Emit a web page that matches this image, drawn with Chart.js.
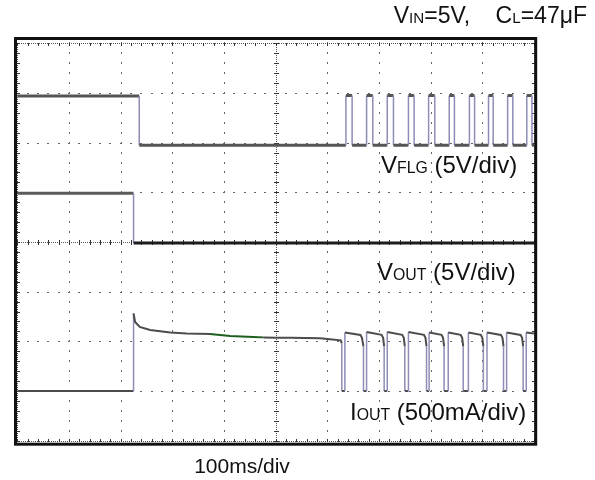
<!DOCTYPE html>
<html>
<head>
<meta charset="utf-8">
<script src="https://cdn.jsdelivr.net/npm/chart.js@4.4.1/dist/chart.umd.min.js"></script>
<style>
  body { margin: 0; background: #fff; }
  #wrap { position: relative; width: 595px; height: 480px; font-family: Arial, "Liberation Sans", sans-serif; color: #111; }
  #wrap canvas { position: absolute; left: 0; top: 0; }
  .lbl { position: absolute; white-space: nowrap; line-height: 1; font-size: 24px; }
  .lbl small { font-size: 0.66em; }
</style>
</head>
<body>
<div id="wrap">
  <canvas id="scope" width="595" height="480"></canvas>
  <div class="lbl" style="right:8px; top:4px; font-size:23px;">V<small>IN</small>=5V,&nbsp;&nbsp;&nbsp;&nbsp;C<small>L</small>=47μF</div>
  <div class="lbl" style="left:381px; top:153px;">V<small>FLG</small> (5V/div)</div>
  <div class="lbl" style="left:377px; top:260px;">V<small>OUT</small> (5V/div)</div>
  <div class="lbl" style="left:350px; top:400px;">I<small>OUT</small> (500mA/div)</div>
  <div class="lbl" style="left:142px; width:200px; text-align:center; top:455px; font-size:21px;">100ms/div</div>
</div>
<script>
// time in ms (100ms/div, 10 div), level in divisions counted from the bottom (8 div)
const flgTime  = [0, 236, 236, 636, 636, 648, 648, 676, 676, 688, 688, 716, 716, 728, 728, 757, 757, 768, 768, 796, 796, 808,
                  808, 836, 836, 846, 846, 875, 875, 885, 885, 912, 912, 921, 921, 949, 949, 959, 959, 986, 986, 996, 996, 1000];
const flgLevel = [6.94, 6.94, 5.95, 5.95, 6.95, 6.95, 5.95, 5.95, 6.95, 6.95, 5.95, 5.95, 6.95, 6.95, 5.95, 5.95, 6.95, 6.95, 5.95, 5.95, 6.95, 6.95,
                  5.95, 5.95, 6.95, 6.95, 5.95, 5.95, 6.95, 6.95, 5.95, 5.95, 6.95, 6.95, 5.95, 5.95, 6.95, 6.95, 5.95, 5.95, 6.95, 6.95, 5.95, 5.95];

const outTime  = [0, 225, 225, 1000];
const outLevel = [4.98, 4.98, 3.98, 3.98];

const iTime  = [0, 225, 225, 228, 237, 257, 296, 328, 373, 412, 457, 476, 502, 528, 586, 605, 626, 628, 628,
                634, 634, 664, 667, 670, 670,
                676, 676, 705, 708, 710, 710,
                716, 716, 745, 748, 750, 750,
                757, 757, 787, 790, 792, 792,
                797, 797, 821, 824, 826, 826,
                834, 834, 858, 861, 863, 863,
                873, 873, 897, 900, 902, 902,
                909, 909, 936, 939, 941, 941,
                947, 947, 974, 977, 979, 979,
                985, 985, 1000];
const iLevel = [1.00, 1.00, 2.56, 2.39, 2.29, 2.23, 2.18, 2.16, 2.15, 2.11, 2.09, 2.08, 2.07, 2.07, 2.06, 2.04, 2.02, 1.96, 1.00,
                1.00, 2.18, 2.13, 2.07, 1.90, 1.00,
                1.00, 2.19, 2.13, 2.07, 1.90, 1.00,
                1.00, 2.19, 2.13, 2.07, 1.90, 1.00,
                1.00, 2.19, 2.13, 2.07, 1.90, 1.00,
                1.00, 2.18, 2.13, 2.07, 1.90, 1.00,
                1.00, 2.18, 2.13, 2.07, 1.90, 1.00,
                1.00, 2.18, 2.13, 2.07, 1.90, 1.00,
                1.00, 2.18, 2.13, 2.07, 1.90, 1.00,
                1.00, 2.18, 2.13, 2.07, 1.90, 1.00,
                1.00, 2.18, 2.16];

const EDGE = '#8d8db6';
const toPoints = (t, v) => t.map((x, i) => ({ x: x, y: v[i] }));
const isEdge = c => c.p0.parsed.x === c.p1.parsed.x;

// dotted graticule, centre cross and bezel
const scopeGrid = {
  id: 'scopeGrid',
  beforeDatasetsDraw(chart) {
    const { ctx, chartArea: a, scales: { x, y } } = chart;
    const X = v => Math.round(x.getPixelForValue(v));
    const Y = v => Math.round(y.getPixelForValue(v));
    ctx.save();
    ctx.fillStyle = '#666';
    for (let i = 1; i < 10; i++) {
      if (i === 5) continue;
      for (let j = 0; j <= 40; j++) ctx.fillRect(X(i * 100), Y(j / 5) - 1, 1, 2);
    }
    for (let j = 1; j < 8; j++) {
      if (j === 4) continue;
      for (let i = 0; i <= 50; i++) ctx.fillRect(X(i * 20) - 1, Y(j), 2, 1);
    }
    ctx.strokeStyle = '#555';
    ctx.lineWidth = 1;
    ctx.setLineDash([1, 1]);
    ctx.beginPath();
    [0, 500, 1000].forEach(v => { ctx.moveTo(X(v) + 0.5, Y(8)); ctx.lineTo(X(v) + 0.5, Y(0)); });
    [0, 4, 8].forEach(v => { ctx.moveTo(X(0), Y(v) + 0.5); ctx.lineTo(X(1000), Y(v) + 0.5); });
    ctx.stroke();
    ctx.setLineDash([]);
    ctx.strokeStyle = '#333';
    ctx.beginPath();
    for (let j = 0; j <= 40; j++) {
      const py = Y(j / 5) + 0.5;
      ctx.moveTo(X(500) - 2, py); ctx.lineTo(X(500) + 3, py);
      ctx.moveTo(X(0), py); ctx.lineTo(X(0) + 3, py);
      ctx.moveTo(X(1000) - 2, py); ctx.lineTo(X(1000) + 1, py);
    }
    for (let i = 0; i <= 50; i++) {
      const px = X(i * 20) + 0.5;
      ctx.moveTo(px, Y(4) - 2); ctx.lineTo(px, Y(4) + 3);
      ctx.moveTo(px, Y(8)); ctx.lineTo(px, Y(8) + 3);
      ctx.moveTo(px, Y(0) - 2); ctx.lineTo(px, Y(0) + 1);
    }
    ctx.stroke();
    ctx.lineWidth = 3;
    ctx.strokeStyle = '#111';
    ctx.strokeRect(a.left - 1.8, a.top - 4.8, a.right - a.left + 3.5, a.bottom - a.top + 8.3);
    ctx.restore();
  }
};

new Chart(document.getElementById('scope'), {
  type: 'line',
  data: {
    datasets: [{
      label: 'IOUT',
      data: toPoints(iTime, iLevel),
      segment: {
        borderColor: c => isEdge(c) ? EDGE : (c.p0.parsed.x >= 373 && c.p1.parsed.x <= 476 ? '#1f5e1f' : '#4c4c4c'),
        borderWidth: c => isEdge(c) ? 1.5 : 2
      }
    }, {
      label: 'VOUT',
      data: toPoints(outTime, outLevel),
      segment: {
        borderColor: c => isEdge(c) ? EDGE : (c.p0.parsed.y < 4.5 ? '#1c1c1c' : '#5a5a5a'),
        borderWidth: c => isEdge(c) ? 1.5 : 3
      }
    }, {
      label: 'VFLG',
      data: toPoints(flgTime, flgLevel),
      segment: {
        borderColor: c => isEdge(c) ? EDGE : '#555',
        borderWidth: c => isEdge(c) ? 1.5 : 3
      }
    }]
  },
  options: {
    responsive: false,
    animation: false,
    layout: { padding: { left: 17.3, right: 61, top: 43.3, bottom: 39.3 } },
    elements: { point: { radius: 0 }, line: { tension: 0, borderJoinStyle: 'miter' } },
    plugins: { legend: { display: false }, tooltip: { enabled: false } },
    scales: {
      x: { type: 'linear', min: 0, max: 1000, display: false },
      y: { min: 0, max: 8, display: false }
    }
  },
  plugins: [scopeGrid]
});
</script>
</body>
</html>
